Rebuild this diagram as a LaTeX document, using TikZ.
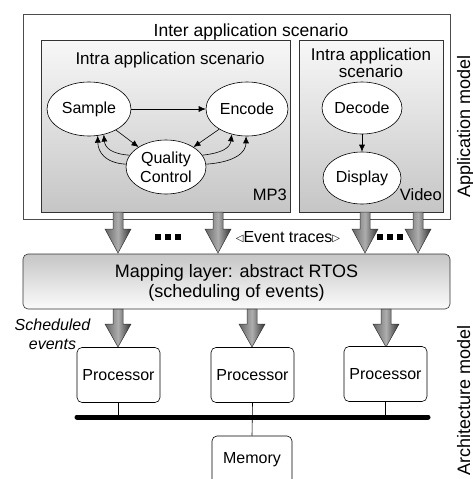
\documentclass[tikz,border=0pt]{standalone}
\usepackage{fontspec}
\setmainfont{Liberation Sans}
\newfontfamily\djv{DejaVu Sans}
\usetikzlibrary{arrows.meta,shapes.geometric,calc}
\begin{document}
\begin{tikzpicture}[x=1pt,y=-1pt,
  fs/.style={font=\fontsize{16}{19}\selectfont},
  ttl/.style={font=\fontsize{17}{20}\selectfont},
  big/.style={font=\fontsize{18}{21}\selectfont},
  ell/.style={ellipse, draw=black, fill=white, line width=0.6pt, inner sep=0pt, fs, align=center},
  arr/.style={-{Latex[length=7pt,width=6pt]}, line width=0.6pt},
  scen/.style={draw=black!80, line width=0.6pt, top color=gray!6, bottom color=gray!45},
  garrow/.style={draw=black!80, line width=0.5pt, left color=black!60, right color=black!80, middle color=black!32},
  proc/.style={draw=black, line width=0.6pt, rounded corners=5pt, fill=white, minimum width=83pt, minimum height=55pt, fs, inner sep=0pt},
]
\useasboundingbox (0,0) rectangle (473,479);
\clip (0,0) rectangle (473,479);

% application model
\draw[draw=black!70, line width=0.6pt, fill=white] (23,14) rectangle (450,219);
\node[anchor=base, inner sep=0pt, font=\fontsize{17.5}{20}\selectfont] (inter) at (251,36) {Inter application scenario};

\draw[scen] (41,40) rectangle (290,212);
\draw[scen] (299,40) rectangle (443,212);

\node[anchor=base, inner sep=0pt, ttl] (t1) at (170,64) {Intra application scenario};
\node[anchor=base, inner sep=0pt, ttl] (t2) at (371,60) {Intra application};
\node[anchor=base, inner sep=0pt, ttl] (t3) at (371,77) {scenario};

\node[ell, minimum width=84pt, minimum height=54pt] (sample) at (89,109) {Sample};
\node[ell, minimum width=82pt, minimum height=54pt] (encode) at (247,109) {Encode};
\node[ell, minimum width=80pt, minimum height=54pt] (qc) at (166,167) {Quality\\Control};
\node[ell, minimum width=80pt, minimum height=52pt] (decode) at (362,108) {Decode};
\node[ell, minimum width=78pt, minimum height=52pt] (display) at (362,178) {Display};

\draw[arr] (sample) -- (encode);
\draw[arr] (sample.-38) -- (qc.144);
\draw[arr] (encode.-144) -- (qc.36);
\draw[arr] (qc.176) .. controls (105,163) and (98,152) .. (sample.-72);
\draw[arr] (qc.162) .. controls (112,154) and (105,148) .. (sample.-60);
\draw[arr] (qc.4) .. controls (236,162) and (246,152) .. (encode.-92);
\draw[arr] (qc.18) .. controls (222,153) and (230,148) .. (encode.-121);
\draw[arr] (decode) -- (display);

\node[anchor=base east, inner sep=0pt, font=\fontsize{16.5}{19}\selectfont] (mp3l) at (287,200) {MP3};
\node[anchor=base east, inner sep=0pt, font=\fontsize{16.5}{19}\selectfont] (vidl) at (442,200) {Video};

\node[rotate=90, anchor=base, inner sep=0pt, big] (am) at (470,126) {Application model};

% mapping layer
\node[draw=black!80, line width=0.6pt, rounded corners=5pt, top color=gray!45, bottom color=gray!3, minimum width=427pt, minimum height=55pt, inner sep=0pt] (map) at (236.5,281.5) {};
\node[anchor=base, inner sep=0pt, big] (m1) at (236.5,277) {Mapping layer: abstract RTOS};
\node[anchor=base, inner sep=0pt, big] (m2) at (236.5,297) {(scheduling of events)};

% event trace arrows
\foreach \x in {118,218,365,418}
  \shadedraw[garrow] (\x-5,212) -- (\x+5,212) -- (\x+5,229) -- (\x+13,229) -- (\x,253) -- (\x-13,229) -- (\x-5,229) -- cycle;
\foreach \x in {158,168,178,380,390,400}
  \fill (\x-3,234) rectangle (\x+3,240);
\node[fs, inner sep=0pt] (ev) at (288,237) {\raisebox{0.5pt}{\djv\fontsize{10}{10}\selectfont ◁}Event traces\raisebox{0.5pt}{\djv\fontsize{10}{10}\selectfont ▷}};

% scheduled events arrows
\foreach \x in {118,252,386}
  \shadedraw[garrow] (\x-5,309) -- (\x+5,309) -- (\x+5,324) -- (\x+13,324) -- (\x,347) -- (\x-13,324) -- (\x-5,324) -- cycle;
\node[anchor=base, inner sep=0pt, font=\fontsize{16}{19}\selectfont\itshape] (s1) at (52.5,330) {Scheduled};
\node[anchor=base, inner sep=0pt, font=\fontsize{16}{19}\selectfont\itshape] (s2) at (52.5,349) {events};

% architecture
\node[proc] (p1) at (118.5,375) {Processor};
\node[proc] (p2) at (252.5,375) {Processor};
\node[proc] (p3) at (385.5,374) {Processor};
\node[proc, minimum width=80pt, minimum height=48pt] (mem) at (252,460) {Memory};
\coordinate (busl) at (77,417);
\coordinate (busr) at (428,417);
\draw[line width=0.6pt] (p1.south) -- (p1.south |- busl);
\draw[line width=0.6pt] (p3.south) -- (p3.south |- busl);
\draw[line width=0.6pt] (p2.south) -- (mem.north);
\draw[line width=5pt, line cap=round] (busl) -- (busr);

\node[rotate=90, anchor=base, inner sep=0pt, big] (arch) at (470,400) {Architecture model};
\end{tikzpicture}
\end{document}
